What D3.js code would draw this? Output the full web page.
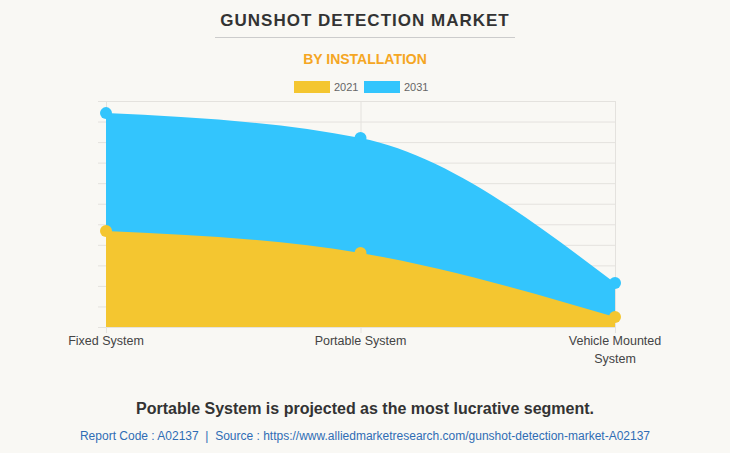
<!DOCTYPE html>
<html>
<head>
<meta charset="utf-8">
<script src="https://cdn.jsdelivr.net/npm/d3@7"></script>
<style>
  body { margin: 0; background: #f9f8f4; font-family: "Liberation Sans", Arial, sans-serif; }
  svg { display: block; }
</style>
</head>
<body>
<div id="chart"></div>
<script>
// chart data (in USD million)
var categories = ["Fixed System", "Portable System", "Vehicle Mounted System"];
var values2021 = [467, 360, 49];
var values2031 = [1041, 920, 214];
var seriesNames = ["2021", "2031"];
var seriesColors = ["#f4c630", "#33c5fd"];

var svgWidth = 730;
var svgHeight = 453;

var margin = { top: 101, right: 115, bottom: 126, left: 106 };
var chartWidth = svgWidth - margin.left - margin.right;
var chartHeight = svgHeight - margin.top - margin.bottom;

var svg = d3.select("#chart")
  .append("svg")
  .attr("width", svgWidth)
  .attr("height", svgHeight);

svg.append("rect")
  .attr("width", svgWidth)
  .attr("height", svgHeight)
  .attr("fill", "#f9f8f4");

// title and subtitle
svg.append("text")
  .attr("x", 365)
  .attr("y", 26)
  .attr("text-anchor", "middle")
  .attr("font-size", 17)
  .attr("font-weight", "bold")
  .attr("letter-spacing", "1px")
  .attr("fill", "#333")
  .text("GUNSHOT DETECTION MARKET");

svg.append("line")
  .attr("x1", 215).attr("x2", 515)
  .attr("y1", 37.5).attr("y2", 37.5)
  .attr("stroke", "#ccc");

svg.append("text")
  .attr("x", 365)
  .attr("y", 64)
  .attr("text-anchor", "middle")
  .attr("font-size", 14)
  .attr("font-weight", "bold")
  .attr("fill", "#f5a623")
  .text("BY INSTALLATION");

// legend
var legend = svg.append("g").attr("transform", "translate(294, 81)");
seriesNames.forEach(function(name, i) {
  var g = legend.append("g").attr("transform", `translate(${i * 70}, 0)`);
  g.append("rect")
    .attr("width", 36).attr("height", 12)
    .attr("fill", seriesColors[i]);
  g.append("text")
    .attr("x", 40).attr("y", 10)
    .attr("font-size", 11)
    .attr("fill", "#666")
    .text(name);
});

var chartGroup = svg.append("g")
  .attr("transform", `translate(${margin.left}, ${margin.top})`);

var xScale = d3.scalePoint()
  .domain(categories)
  .range([0, chartWidth]);

var yScale = d3.scaleLinear()
  .domain([0, 1100])
  .range([chartHeight, 0]);

// horizontal grid with small ticks on the left
chartGroup.append("g")
  .call(d3.axisLeft(yScale).ticks(11).tickSize(-chartWidth - 8).tickFormat(""))
  .call(g => g.select(".domain").remove())
  .call(g => g.selectAll(".tick line")
    .attr("stroke", "#e4e2de")
    .attr("transform", "translate(-8,0)"));

// vertical grid
chartGroup.append("g")
  .attr("transform", `translate(0, ${chartHeight})`)
  .call(d3.axisBottom(xScale).tickSize(-chartHeight - 6).tickFormat(""))
  .call(g => g.select(".domain").remove())
  .call(g => g.selectAll(".tick line")
    .attr("stroke", "#e4e2de")
    .attr("transform", "translate(0,6)"));

// x labels
var xLabels = chartGroup.append("g")
  .attr("transform", `translate(0, ${chartHeight})`);
categories.forEach(function(c) {
  var words = c === "Vehicle Mounted System" ? ["Vehicle Mounted", "System"] : [c];
  var t = xLabels.append("text")
    .attr("x", xScale(c))
    .attr("y", 18)
    .attr("text-anchor", "middle")
    .attr("font-size", 12.5)
    .attr("fill", "#444");
  words.forEach(function(w, j) {
    t.append("tspan")
      .attr("x", xScale(c))
      .attr("dy", j === 0 ? 0 : 18)
      .text(w);
  });
});

var seriesData = [values2031, values2021];
var seriesColorOrder = [seriesColors[1], seriesColors[0]];

var area = d3.area()
  .x((d, i) => xScale(categories[i]))
  .y0(yScale(0))
  .y1(d => yScale(d))
  .curve(d3.curveMonotoneX);

seriesData.forEach(function(vals, k) {
  chartGroup.append("path")
    .datum(vals)
    .attr("d", area)
    .attr("fill", seriesColorOrder[k]);
});

seriesData.forEach(function(vals, k) {
  chartGroup.selectAll(null)
    .data(vals)
    .enter()
    .append("circle")
    .attr("cx", (d, i) => xScale(categories[i]))
    .attr("cy", d => yScale(d))
    .attr("r", 6)
    .attr("fill", seriesColorOrder[k]);
});

// footer text
svg.append("text")
  .attr("x", 365)
  .attr("y", 414)
  .attr("text-anchor", "middle")
  .attr("font-size", 16)
  .attr("font-weight", "bold")
  .attr("fill", "#333")
  .text("Portable System is projected as the most lucrative segment.");

svg.append("text")
  .attr("x", 365)
  .attr("y", 440)
  .attr("text-anchor", "middle")
  .attr("font-size", 12)
  .attr("fill", "#2f6db5")
  .style("white-space", "pre")
  .text("Report Code : A02137  |  Source : https://www.alliedmarketresearch.com/gunshot-detection-market-A02137");
</script>
</body>
</html>
